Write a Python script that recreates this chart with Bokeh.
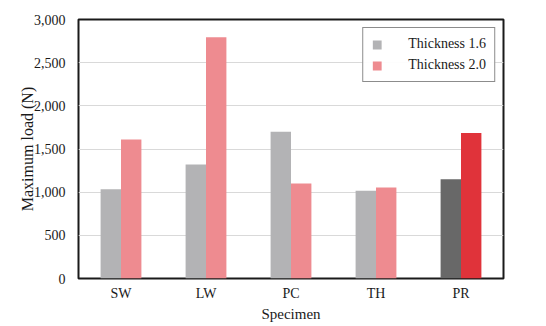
from bokeh.plotting import figure
from bokeh.models import FactorRange, ColumnDataSource, Legend, LegendItem, NumeralTickFormatter, Range1d, FixedTicker
from bokeh.transform import dodge
from bokeh.embed import file_html
from bokeh.resources import INLINE

specimens = ["SW", "LW", "PC", "TH", "PR"]
thickness_16 = [1035, 1320, 1700, 1015, 1150]
thickness_20 = [1610, 2795, 1100, 1055, 1685]
colors_16 = ["#b3b3b5", "#b3b3b5", "#b3b3b5", "#b3b3b5", "#686868"]
colors_20 = ["#ee8b90", "#ee8b90", "#ee8b90", "#ee8b90", "#e0333a"]
y_ticks = [0, 500, 1000, 1500, 2000, 2500, 3000]

FONT = "Liberation Serif"

src = ColumnDataSource(dict(cat=specimens, t16=thickness_16, t20=thickness_20, c16=colors_16, c20=colors_20))

p = figure(width=546, height=326, output_backend="svg", toolbar_location=None,
           x_range=FactorRange(*specimens, range_padding=0), y_range=Range1d(0, 3000),
           min_border_left=78, min_border_right=43, min_border_top=19, min_border_bottom=48)

r1 = p.vbar(x=dodge("cat", -0.12, range=p.x_range), top="t16", width=0.24, source=src,
            fill_color="c16", line_color=None)
r2 = p.vbar(x=dodge("cat", 0.12, range=p.x_range), top="t20", width=0.24, source=src,
            fill_color="c20", line_color=None)

p.outline_line_color = "#1a1a1a"
p.outline_line_width = 2
p.xgrid.grid_line_color = None
p.ygrid.grid_line_color = "#d9d9d9"
p.ygrid.grid_line_width = 1

for ax in (p.xaxis[0], p.yaxis[0]):
    ax.axis_line_color = None
    ax.major_tick_line_color = None
    ax.minor_tick_line_color = None
    ax.major_label_text_font = FONT
    ax.major_label_text_font_size = "14px"
    ax.major_label_text_color = "#1a1a1a"
    ax.axis_label_text_font = FONT
    ax.axis_label_text_font_style = "normal"
    ax.axis_label_text_color = "#1a1a1a"

p.yaxis[0].ticker = FixedTicker(ticks=y_ticks)
p.yaxis[0].formatter = NumeralTickFormatter(format="0,0")
p.yaxis[0].axis_label = "Maximum load (N)"
p.yaxis[0].axis_label_text_font_size = "16px"
p.yaxis[0].major_label_standoff = 7
p.yaxis[0].axis_label_standoff = -5
p.xaxis[0].axis_label = "Specimen"
p.xaxis[0].axis_label_text_font_size = "15px"
p.xaxis[0].major_label_standoff = 1
p.xaxis[0].axis_label_standoff = 2

legend = Legend(items=[LegendItem(label="Thickness 1.6", renderers=[r1], index=0),
                       LegendItem(label="Thickness 2.0", renderers=[r2], index=0)],
                location="top_right")
legend.label_text_font = FONT
legend.label_text_font_size = "14px"
legend.label_text_color = "#1a1a1a"
legend.border_line_color = "#1a1a1a"
legend.border_line_width = 1
legend.glyph_width = 11
legend.glyph_height = 11
legend.label_standoff = 26
legend.spacing = 5
legend.margin = 8
legend.label_height = 14
legend.padding = 8
p.add_layout(legend, "center")

open("out.html", "w").write(file_html(p, INLINE))
